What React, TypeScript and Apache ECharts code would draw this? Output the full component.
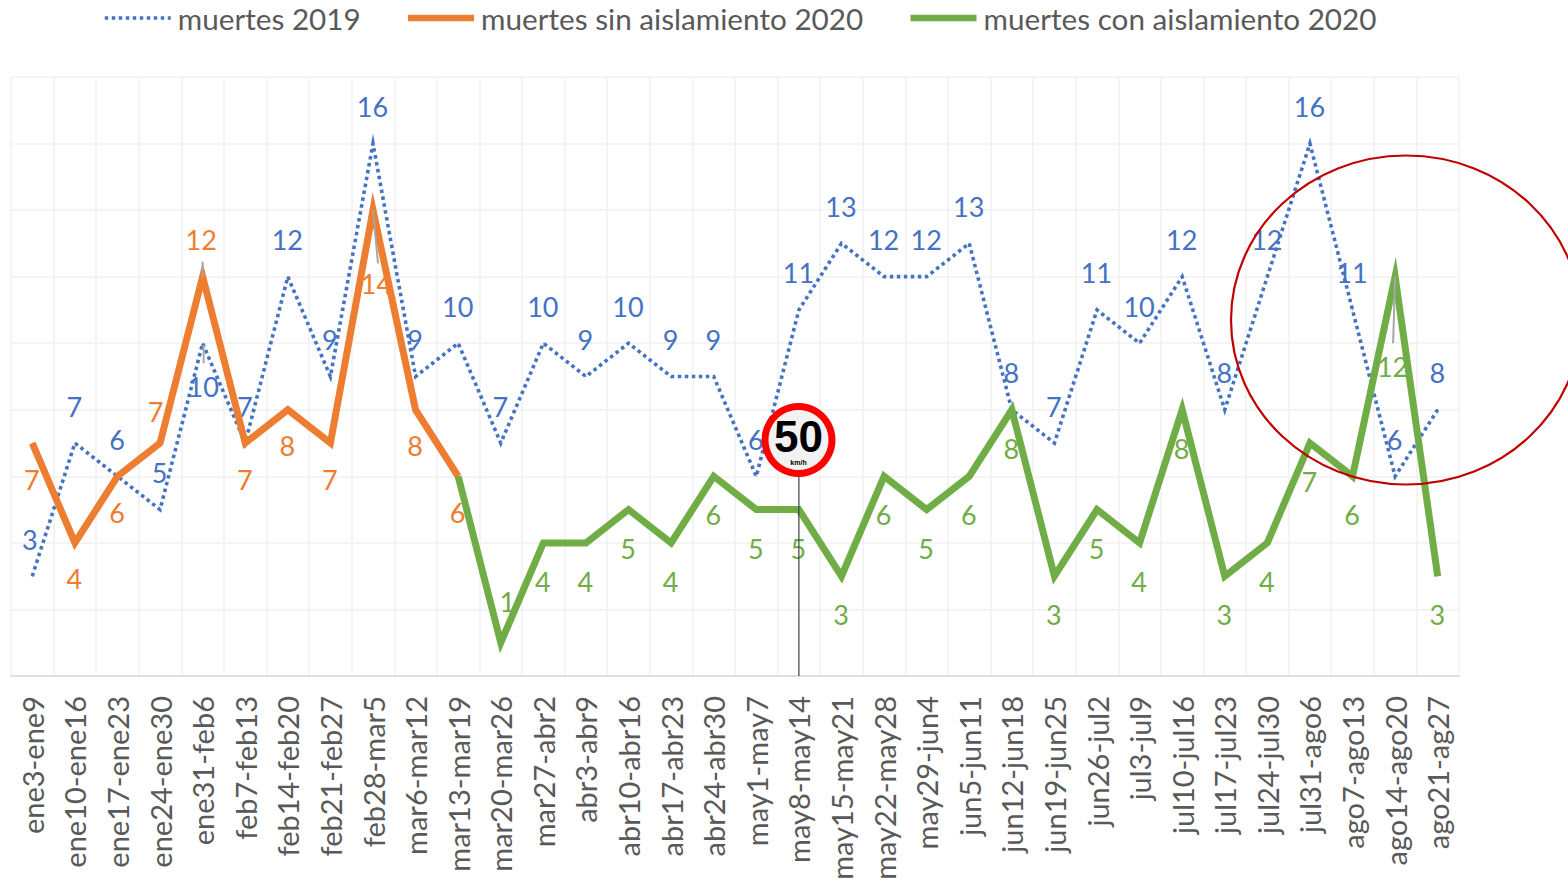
import React, { useEffect, useRef } from "react";
import * as echarts from "echarts";

const categories = ["ene3-ene9","ene10-ene16","ene17-ene23","ene24-ene30","ene31-feb6","feb7-feb13","feb14-feb20","feb21-feb27","feb28-mar5","mar6-mar12","mar13-mar19","mar20-mar26","mar27-abr2","abr3-abr9","abr10-abr16","abr17-abr23","abr24-abr30","may1-may7","may8-may14","may15-may21","may22-may28","may29-jun4","jun5-jun11","jun12-jun18","jun19-jun25","jun26-jul2","jul3-jul9","jul10-jul16","jul17-jul23","jul24-jul30","jul31-ago6","ago7-ago13","ago14-ago20","ago21-ag27"];
const muertes2019 = [3,7,6,5,10,7,12,9,16,9,10,7,10,9,10,9,9,6,11,13,12,12,13,8,7,11,10,12,8,12,16,11,6,8];
const sinAislamiento = [7,4,6,7,12,7,8,7,14,8,6,null,null,null,null,null,null,null,null,null,null,null,null,null,null,null,null,null,null,null,null,null,null,null];
const conAislamiento = [null,null,null,null,null,null,null,null,null,null,6,1,4,4,5,4,6,5,5,3,6,5,6,8,3,5,4,8,3,4,7,6,12,3];

// label offsets from the point, in px, where a label differs from its series' default
const blueDefault = [0, -36.5];
const blueOffsets: Record<number, number[]> = { 0: [-2, -36], 4: [1, 44] };
const orangeDefault = [0, 36.5];
const orangeOffsets: Record<number, number[]> = { 3: [-4, -31], 4: [-1, -37], 8: [4, 74] };
const greenDefault = [0, 39];
const greenOffsets: Record<number, number[]> = { 11: [7, -41], 32: [-2, 90] };

// leader lines: category index, from value, to value, x shift of each end in px
const leaders = [
  [4, 12.45, 12, 0, 0],
  [4, 9.95, 9.4, 1, 1],
  [8, 14, 12.4, 0, 5],
  [32, 12, 10, 0, -2],
];
const signLine = [[18, 6, 0, 0, 0]];

const BLUE = "#4472C4";
const ORANGE = "#ED7D31";
const GREEN = "#70AD47";
const FONT = "Lato";

const points = (vals: (number | null)[], def: number[], offs: Record<number, number[]>) =>
  vals.map((v, i) =>
    v === null
      ? null
      : { value: v, label: { position: offs[i] || def } }
  );

const lineSeries = (name: string, vals: any[], color: string, def: number[], offs: any, width: number, type: any, hide?: number) => ({
  type: "line",
  name,
  data: points(vals, def, offs).map((p, i) => (p && i === hide ? { ...p, label: { show: false } } : p)),
  symbol: "circle",
  symbolSize: 1,
  showSymbol: true,
  showAllSymbol: true,
  itemStyle: { color },
  lineStyle: { color, width, type, join: "miter", miterLimit: 12, cap: "butt" },
  label: { show: true, color, fontFamily: FONT, fontSize: 27, align: "center", verticalAlign: "middle" },
  silent: true,
  connectNulls: false,
});

const connector = (data: number[][], color: string, lineWidth: number) => ({
  type: "custom",
  data,
  encode: { x: 0, y: 1 },
  silent: true,
  z: 6,
  renderItem: (_: any, api: any) => {
    const a = api.coord([api.value(0), api.value(1)]);
    const b = api.coord([api.value(0), api.value(2)]);
    return {
      type: "line",
      shape: { x1: a[0] + api.value(3), y1: a[1], x2: b[0] + api.value(4), y2: b[1] },
      style: { stroke: color, lineWidth },
    };
  },
});

export default function App() {
  const ref = useRef<HTMLDivElement>(null);
  useEffect(() => {
    const chart = echarts.init(ref.current!, undefined, { renderer: "svg" });
    chart.setOption({
      animation: false,
      backgroundColor: "#ffffff",
      legend: {
        left: 103,
        top: 3,
        padding: 0,
        itemWidth: 66,
        itemHeight: 1,
        itemGap: 44,
        data: [
          { name: "muertes 2019", lineStyle: { width: 3.5 } },
          { name: "muertes sin aislamiento 2020", lineStyle: { width: 6.5 } },
          { name: "muertes con aislamiento 2020", lineStyle: { width: 6.5 } },
        ],
        textStyle: { color: "#595959", fontFamily: FONT, fontSize: 29.7, padding: [0, 0, 0, 2] },
      },
      grid: { left: 11, right: 109, top: 77, bottom: 205, outerBoundsMode: "none" },
      xAxis: {
        type: "category",
        data: categories,
        boundaryGap: true,
        axisTick: { show: false },
        axisLine: { lineStyle: { color: "#D9D9D9", width: 1.5 } },
        splitLine: { show: true, interval: 0, lineStyle: { color: "#F0F0F0", width: 1.5 } },
        axisLabel: { interval: 0, rotate: 90, margin: 20, color: "#595959", fontFamily: FONT, fontSize: 29 },
      },
      yAxis: {
        type: "value",
        min: 0,
        max: 18,
        interval: 2,
        axisLine: { show: false },
        axisTick: { show: false },
        axisLabel: { show: false },
        splitLine: { show: true, lineStyle: { color: "#F0F0F0", width: 1.5 } },
      },
      series: [
        { ...lineSeries("muertes 2019", muertes2019, BLUE, blueDefault, blueOffsets, 3.6, [3.5, 3.5]), z: 2 },
        { ...lineSeries("muertes sin aislamiento 2020", sinAislamiento, ORANGE, orangeDefault, orangeOffsets, 7, "solid"), z: 3 },
        { ...lineSeries("muertes con aislamiento 2020", conAislamiento, GREEN, greenDefault, greenOffsets, 7, "solid", 10), z: 4 },
        connector(leaders, "#A6A6A6", 2),
        connector(signLine, "#404040", 1.2),
      ],
      graphic: [
        {
          type: "ellipse",
          silent: true,
          z: 20,
          shape: { cx: 1406, cy: 320, rx: 175, ry: 164.5 },
          style: { fill: "none", stroke: "#C00000", lineWidth: 2.2 },
        },
        {
          type: "group",
          silent: true,
          z: 21,
          x: 798.5,
          y: 440,
          children: [
            { type: "circle", shape: { cx: 0, cy: 0, r: 33.5 }, style: { fill: "#F2F2F2", stroke: "#FF0000", lineWidth: 7 }, z: 21 },
            { type: "text", x: 0, y: -4, z: 22, style: { text: "50", fill: "#000000", font: "bold 44px 'Liberation Sans'", align: "center", verticalAlign: "middle" } },
            { type: "text", x: 0, y: 22.5, z: 22, style: { text: "km/h", fill: "#000000", font: "bold 7px 'Liberation Sans'", align: "center", verticalAlign: "middle" } },
          ],
        },
      ],
    });
    return () => chart.dispose();
  }, []);
  return <div ref={ref} style={{ position: "absolute", left: 0, top: 0, width: 1568, height: 881, overflow: "hidden" }} />;
}
